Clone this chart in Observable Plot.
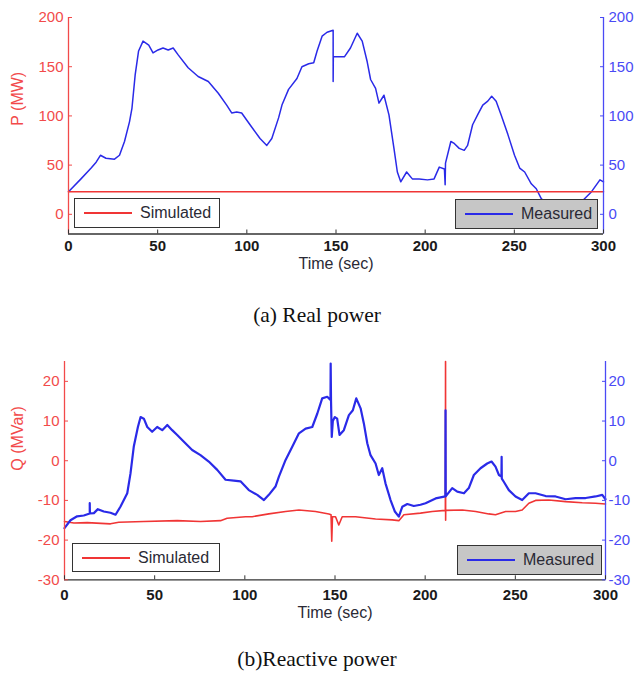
<!DOCTYPE html>
<html><head><meta charset="utf-8">
<script src="https://cdn.jsdelivr.net/npm/d3@7"></script>
<script src="https://cdn.jsdelivr.net/npm/@observablehq/plot@0.6"></script>
<style>
html,body{margin:0;background:#fff;font-family:"Liberation Sans",Arial,sans-serif;overflow:hidden;}
.panel{position:relative;width:634px;}
.caption{font-family:"Liberation Serif","Times New Roman",serif;font-size:21.5px;color:#111;text-align:center;width:634px;}
.legend{position:absolute;border:1px solid #333;box-sizing:border-box;display:flex;align-items:center;font-size:16px;color:#2a2a35;}
.legend .sw{display:inline-block;height:0;border-top:2px solid;width:48px;margin-left:9px;margin-right:8px;}
</style></head><body>
<div id="a" class="panel" style="height:290px"></div>
<div class="caption" style="height:50px;line-height:50px">(a) Real power</div>
<div id="b" class="panel" style="height:295px"></div>
<div class="caption" style="height:38px;line-height:48px;overflow:hidden">(b)Reactive power</div>
<script>
// ---------- data ----------
const xTicks = [0, 50, 100, 150, 200, 250, 300];
const pTicks = [0, 50, 100, 150, 200];
const qTicks = [-30, -20, -10, 0, 10, 20];
const seriesNames = ["Simulated", "Measured"];

// (a) Real power, MW
const pSimTime = [0, 300];
const pSimValue = [23, 23];
const pMeasTime = [0,7,12.7,15.5,17.9,21,25.8,28.6,31.4,34.2,35.6,37.4,39.3,41.8,45,47.4,50.2,53,55.9,58.7,61.5,67.1,72.7,78.4,84,88.7,91.5,94.3,97.1,101.8,107.4,111.2,114,117.8,119.7,123.4,128.1,130.9,134.7,137.5,139.4,142.2,145,148.4,148.4,148.5,150.6,154.7,158.1,161.9,164.7,167.5,169.4,172.2,174.1,176.9,179.7,182.5,184.4,186.3,189.6,192.8,196.6,201.3,205,207.9,210.8,211.2,211.4,214.4,216.3,219.1,221.9,223.8,226.6,229.4,232.3,235.1,237.3,239.8,242.6,246.4,250.1,253,255.8,259.5,262.3,265.1,270,278,285,289.5,293.3,298,300];
const pMeasValue = [23,36,47,53,60,57,56,60,74,94,108,142,166,176,172,164,167,169,167,169,162,149,140,135,123,111,103,104,103,91,77,70,77,98,111,127,138,150,153,154,166,181,185,187,135,160,160,160,169,184,176,155,137,128,113,121,101,67,43,33,43,36,36,35,36,48,46,30,52,74,72,67,65,70,91,101,111,115,120,115,101,81,60,47,43,31,26,16,7,3,8,16,23,35,33];

// (b) Reactive power, MVar
const qSimTime = [0,5.2,12.6,25.5,30.1,44,62.5,75.4,86.5,90.2,100.4,104.1,113.3,122.6,130,139.2,146.6,147.8,148.2,148.6,150.3,152.1,154,161.4,172.5,181.7,185.4,188.2,197.4,203.9,211.2,211.3,211.35,211.4,220.6,228,235.3,239,244.6,250.1,253.8,257.5,261.2,268.6,277.9,287.1,294.5,300];
const qSimValue = [-15.3,-15.7,-15.6,-15.9,-15.5,-15.3,-15.1,-15.3,-15.1,-14.5,-14.1,-14.1,-13.4,-12.8,-12.4,-12.8,-13.4,-13.6,-20.3,-14.1,-14.1,-16.2,-14.1,-14.1,-14.7,-14.9,-15.1,-13.6,-13.2,-12.8,-12.5,25,-15,-12.5,-12.4,-12.8,-13.4,-13.6,-12.8,-12.8,-12.4,-10.7,-10,-9.9,-10.3,-10.6,-10.7,-10.9];
const qMeasTime = [0,3.3,7,10.7,14,14,14.1,16.3,18.5,21.8,25.5,28.3,31,34.8,36.6,38.4,40.7,42.2,44,45.9,48.6,51.4,54.2,57,59.7,62.5,66.2,70.8,75.4,80,84.7,89.3,93.9,97.6,102.2,106.9,110.6,113.3,117,118.9,122.6,126.3,130,133.7,137.4,140.2,142.9,145.7,147.5,147.6,147.8,148.2,148.8,149.9,151.2,152.5,154.9,157.7,159.9,161.8,164.2,166,167.9,169.7,172.5,174.3,176.2,178,180.8,183.2,185.4,187.3,190.1,193.7,197.4,200.2,205.8,211.2,211.3,211.4,215,217.8,221.5,224.2,227,230.7,234.4,236.8,239,240.9,242.3,242.4,242.5,243.6,246.4,250.1,253.8,257.5,261.2,266.8,272.3,277.9,283.4,289,294.5,298.2,300];
const qMeasValue = [-17,-15,-14,-13.8,-13.3,-10.7,-13.3,-13.2,-12.2,-12.8,-13.1,-13.6,-11.6,-8.2,-3.2,3.5,8.5,11,10.6,8.5,7.3,8.5,7.7,9,7.7,6.5,4.8,2.7,1.4,-0.2,-2.3,-4.8,-5,-5.2,-7.4,-8.6,-9.9,-8.6,-6.5,-4,0.2,3.5,6.9,8.1,8.5,11.9,15.7,16.1,15.3,24.5,15,6,10,11,10.6,6.5,7.7,11.5,12.7,15.7,13.2,9.4,4.4,1.4,-0.7,-3.6,-1.9,-5.7,-9.9,-12.8,-14.1,-11.6,-10.9,-11.4,-11.1,-10.7,-9.5,-9,12.7,-9,-6.9,-7.8,-8.2,-6.9,-3.6,-1.9,-0.7,-0.2,-1.5,-3.6,-4,1,-4.5,-5.3,-7.4,-9,-9.9,-8.2,-8.2,-8.9,-9,-9.7,-9.4,-9.4,-9,-8.6,-9.7];

// ---------- style ----------
const RED_AX = "#f24a4a", BLUE_AX = "#4a4af5";
const RED_LN = "#f03535", BLUE_LN = "#2a2ae8";
const zip = (t, v) => t.map((x, i) => ({t: x, v: v[i]}));
const plain = (d) => String(d); // ASCII hyphen for negatives, as in the figure

function dualAxisChart({height, mt, mb, ml, mr, yDomain, yTicks, yLabel, labelDy, sim, meas, simOnTop, measWidth, simWidth, rightPad, xPad}) {
  const xLo = xTicks[0], xHi = xTicks[xTicks.length - 1];
  const lines = [
    Plot.line(meas, {x: "t", y: "v", stroke: BLUE_LN, strokeWidth: measWidth}),
    Plot.line(sim, {x: "t", y: "v", stroke: RED_LN, strokeWidth: simWidth})
  ];
  if (!simOnTop) lines.reverse();
  return Plot.plot({
    width: 634, height,
    marginTop: mt, marginBottom: mb, marginLeft: ml, marginRight: mr,
    x: {domain: [xLo, xHi]},
    y: {domain: yDomain},
    style: {fontFamily: "Liberation Sans, Arial, sans-serif", fontSize: "15px", background: "white", overflow: "visible"},
    marks: [
      ...lines,
      Plot.ruleX([xLo], {stroke: RED_AX, strokeWidth: 1.3}),
      Plot.ruleX([xHi], {stroke: BLUE_AX, strokeWidth: 1.3}),
      Plot.ruleY([yDomain[0]], {stroke: "#333", strokeWidth: 1.3}),
      // inward ticks: the inset pushes each tick inside the frame
      Plot.axisY(yTicks, {anchor: "left", tickSize: 4, insetLeft: 4, tickPadding: 5, tickFormat: plain, stroke: RED_AX, fill: RED_AX, label: null}),
      Plot.axisY(yTicks, {anchor: "right", tickSize: 4, insetRight: 4, tickPadding: rightPad, tickFormat: plain, stroke: BLUE_AX, fill: BLUE_AX, label: null}),
      Plot.axisX(xTicks, {anchor: "bottom", tickSize: 4, insetBottom: 4, tickPadding: xPad, stroke: "#333", fill: "#1a1a1a", fontWeight: "bold", label: null}),
      Plot.text([yLabel], {frameAnchor: "left", rotate: -90, dx: 17 - ml, fill: RED_AX, fontSize: 16}),
      Plot.text(["Time (sec)"], {frameAnchor: "bottom", dy: labelDy, fill: "#2a2a35", fontSize: 16})
    ]
  });
}

function legend(container, name, color, box, gray) {
  const d = document.createElement("div");
  d.className = "legend";
  Object.assign(d.style, {left: box[0] + "px", top: box[1] + "px", width: box[2] + "px", height: box[3] + "px", background: gray ? "#c6c6c6" : "#fff"});
  const sw = document.createElement("span");
  sw.className = "sw"; sw.style.borderTopColor = color;
  d.appendChild(sw);
  d.appendChild(document.createTextNode(name));
  container.appendChild(d);
}

const a = document.getElementById("a");
a.appendChild(dualAxisChart({
  height: 290, mt: 17, mb: 56.5, ml: 68, mr: 31,
  yDomain: [-20, 200], yTicks: pTicks, yLabel: "P (MW)", labelDy: 34.5,
  sim: zip(pSimTime, pSimValue), meas: zip(pMeasTime, pMeasValue),
  simOnTop: true, measWidth: 1.5, simWidth: 1.6, rightPad: 5, xPad: 6
}));
legend(a, seriesNames[0], RED_LN, [74, 198, 146, 30], false);
legend(a, seriesNames[1], BLUE_LN, [455, 199, 143, 30], true);

const b = document.getElementById("b");
b.appendChild(dualAxisChart({
  height: 295, mt: 21, mb: 55.7, ml: 64, mr: 29,
  yDomain: [-30, 25], yTicks: qTicks, yLabel: "Q (MVar)", labelDy: 38.5,
  sim: zip(qSimTime, qSimValue), meas: zip(qMeasTime, qMeasValue),
  simOnTop: false, measWidth: 2.2, simWidth: 1.6, rightPad: 3, xPad: 10
}));
legend(b, seriesNames[0], RED_LN, [72, 203, 148, 29], false);
legend(b, seriesNames[1], BLUE_LN, [457, 205, 145, 30], true);
</script>
</body></html>
